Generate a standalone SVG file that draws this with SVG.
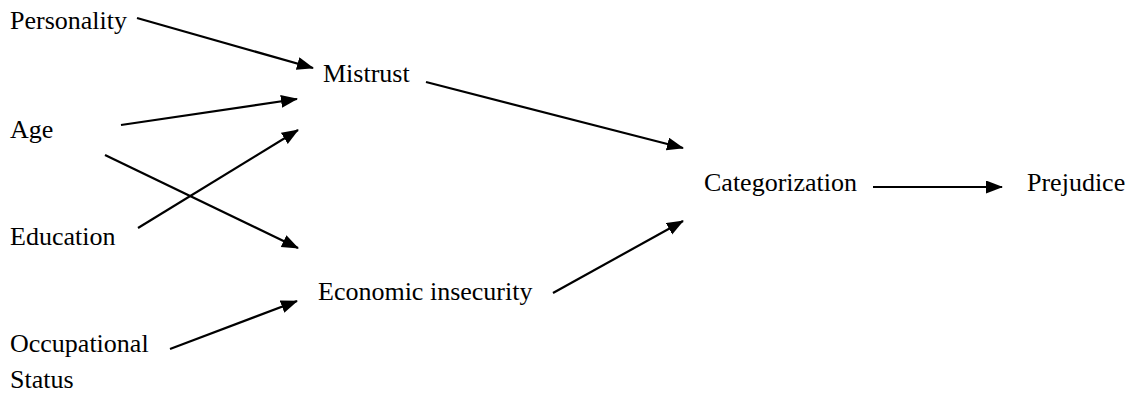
<svg xmlns="http://www.w3.org/2000/svg" width="1133" height="396" viewBox="0 0 1133 396">
<style>
text{font-family:"Liberation Serif",serif;font-size:26px;fill:#000}
.c line{stroke:#000;stroke-width:2.2;marker-end:url(#ah)}
</style>
<defs>
<marker id="ah" markerUnits="userSpaceOnUse" markerWidth="18" markerHeight="14" refX="16" refY="6.5" orient="auto">
<path d="M0,0 L17,6.5 L0,13 z" fill="#000"/>
</marker>
</defs>
<rect width="1133" height="396" fill="#fff"/>
<g id="personality"><text x="10" y="29">Personality</text></g>
<g id="age"><text x="10" y="138">Age</text></g>
<g id="education"><text x="10" y="245">Education</text></g>
<g id="occupational"><text x="10" y="352">Occupational</text><text x="10" y="388">Status</text></g>
<g id="mistrust"><text x="323" y="82">Mistrust</text></g>
<g id="economic"><text x="318" y="300">Economic insecurity</text></g>
<g id="categorization"><text x="704" y="191">Categorization</text></g>
<g id="prejudice"><text x="1027" y="191">Prejudice</text></g>
<g class="c" id="connectors">
<line x1="137" y1="18" x2="313" y2="68"/>
<line x1="121" y1="125" x2="297" y2="99"/>
<line x1="138" y1="228" x2="298" y2="130"/>
<line x1="105" y1="155" x2="298" y2="248"/>
<line x1="170" y1="349" x2="297" y2="301"/>
<line x1="426" y1="82" x2="683" y2="148"/>
<line x1="553" y1="293" x2="683" y2="221"/>
<line x1="873" y1="187" x2="1002" y2="187"/>
</g>
</svg>
